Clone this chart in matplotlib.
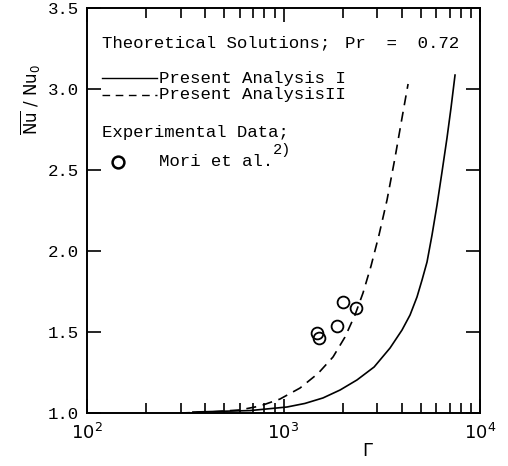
import matplotlib
matplotlib.use("Agg")
import matplotlib.pyplot as plt
from matplotlib.ticker import LogLocator, NullFormatter, FixedLocator
import numpy as np

# curve values
gamma_I = [346, 676, 1042, 1285, 1589, 1941, 2366, 2892, 3484, 4009, 4406, 4779, 5070,
           5375, 5700, 6043, 6407, 6793, 7119, 7463]
nu_I = [1.006, 1.015, 1.037, 1.059, 1.093, 1.142, 1.204, 1.284, 1.401, 1.512, 1.605,
        1.716, 1.821, 1.932, 2.099, 2.284, 2.488, 2.698, 2.883, 3.086]

gamma_II = [297, 423, 601, 759, 959, 1213, 1499, 1787, 2056, 2311, 2539, 2788, 3062,
            3364, 3692, 4009, 4305]
nu_II = [1.0, 1.006, 1.019, 1.043, 1.086, 1.154, 1.244, 1.346, 1.469, 1.605, 1.741,
         1.907, 2.099, 2.315, 2.574, 2.821, 3.031]

# Mori et al. experimental points
gamma_exp = [1480, 1510, 1870, 2010, 2340]
nu_exp = [1.494, 1.46, 1.537, 1.685, 1.648]

yticks = [1.0, 1.5, 2.0, 2.5, 3.0, 3.5]

mono = "Liberation Mono"

fig = plt.figure(figsize=(5.08, 4.66), dpi=100)
ax = fig.add_axes([87/508, 53/466, 393/508, 405/466])

ax.plot(gamma_I, nu_I, color="black", lw=1.2)
ax.plot(gamma_II, nu_II, color="black", lw=1.2, linestyle=(0, (6, 4)))
ax.plot(gamma_exp, nu_exp, linestyle="none", marker="o", ms=8.5,
        mfc="none", mec="black", mew=1.3)

ax.set_xscale("log")
ax.set_xlim(100, 10000)
ax.set_ylim(1.0, 3.5)

ax.xaxis.set_major_locator(LogLocator(base=10, numticks=5))
ax.xaxis.set_minor_locator(LogLocator(base=10, subs=np.arange(2, 10), numticks=10))
ax.xaxis.set_minor_formatter(NullFormatter())
ax.yaxis.set_major_locator(FixedLocator(yticks))
ax.set_yticklabels(["%.1f" % v for v in yticks], fontfamily=mono, fontsize=12.5)

ax.tick_params(axis="x", which="major", direction="in", length=10, width=1.2,
               top=True, labelsize=13, pad=7)
ax.tick_params(axis="x", which="minor", direction="in", length=7, width=1.2, top=True)
ax.tick_params(axis="y", which="major", direction="in", length=10, width=1.2,
               right=True, pad=6)
for s in ax.spines.values():
    s.set_linewidth(1.4)

# legend block drawn by hand
def fx(px):
    return (px - 87) / 393
def fy(py):
    return (413 - py) / 405

tkw = dict(transform=ax.transAxes, fontfamily=mono, fontsize=12.5, va="center")
ax.text(fx(102), fy(43), "Theoretical Solutions;", **tkw)
ax.text(fx(345), fy(43), "Pr  =  0.72", **tkw)
ax.plot([fx(102), fx(157)], [fy(78), fy(78)], transform=ax.transAxes, color="black", lw=1.0)
ax.plot([fx(102), fx(157)], [fy(95), fy(95)], transform=ax.transAxes, color="black", lw=1.0,
        linestyle=(0, (5.5, 4)))
ax.text(fx(159), fy(78), "Present Analysis I", **tkw)
ax.text(fx(159), fy(95), "Present AnalysisII", **tkw)
ax.text(fx(102), fy(133), "Experimental Data;", **tkw)
ax.plot([fx(118)], [fy(162)], transform=ax.transAxes, marker="o", ms=8.5, mfc="none",
        mec="black", mew=1.8)
ax.text(fx(159), fy(162), "Mori et al.", **tkw)
ax.text(fx(273), fy(150), "2)", transform=ax.transAxes, fontfamily=mono, fontsize=11, va="center")

fig.text(368/508, 1 - 451/466, r"$\Gamma$", ha="center", va="center", fontsize=13)
fig.text(31/508, 1 - 100/466, r"$\overline{\mathrm{Nu}}$ / Nu$_0$", rotation=90,
         ha="center", va="center", fontsize=12)

fig.savefig("out.png", dpi=100)
